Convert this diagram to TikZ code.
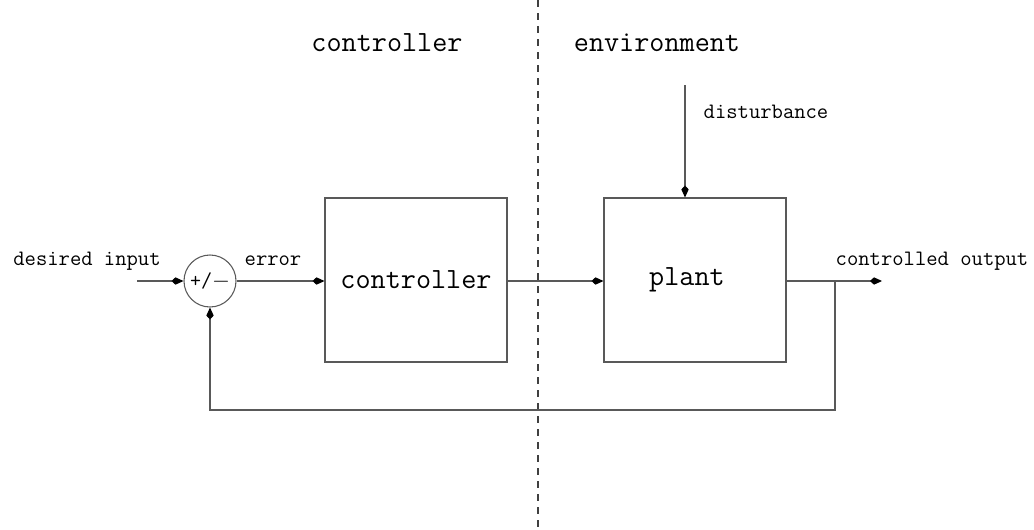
\documentclass[tikz,border=0pt]{standalone}
\usetikzlibrary{arrows.meta,positioning}

\begin{document}
\begin{tikzpicture}[x=0.75pt,y=-0.75pt,
blk/.style={draw=black!65,line width=0.8pt,minimum width=136.5pt,minimum height=123pt,font=\ttfamily\fontsize{22}{26}\selectfont},
sumnode/.style={draw=black!65,line width=0.8pt,circle,minimum size=39pt,inner sep=0pt,font=\ttfamily\fontsize{16}{19}\selectfont},
lbl/.style={font=\ttfamily\fontsize{16.5}{19}\selectfont,inner sep=0pt},
big/.style={font=\ttfamily\fontsize{22}{26}\selectfont,inner sep=0pt},
sig/.style={draw=black!65,line width=0.8pt,-{Kite[length=9pt,width=5.5pt,inset=3pt,black]}},
sep/.style={draw=black!75,line width=0.8pt,dash pattern=on 5.25pt off 4.5pt}]
\useasboundingbox (0,0) rectangle (1034,529);
% controller / environment split
\coordinate (septop) at (538,0);
\coordinate (sepbot) at (538,529);
\draw[sep] (septop) -- (sepbot);
\node[big] (side1) at (387,43) {controller};
\node[big] (side2) at (657,43) {environment};
% loop blocks
\node[sumnode] (sum) at (210,281) {+/$-$};
\node[blk] (ctrl) at (416,280) {controller};
\node[blk] (plant) at (695,280) {};
\node[big] (plantlbl) at (687,280) {plant};
\coordinate (in) at (137,281);
\coordinate (out) at (882,281);
\coordinate (tap) at (835,281);
\coordinate (fb) at (210,410);
\coordinate (dist) at (685,85);
% labels
\node[lbl] (inlbl) at (87,261) {desired input};
\node[lbl] (errlbl) at (273,261) {error};
\node[lbl] (outlbl) at (932,261) {controlled output};
\node[lbl] (distlbl) at (766,112) {disturbance};
% signals
\draw[sig] (in) -- (sum);
\draw[sig] (sum) -- (sum -| ctrl.west);
\draw[sig] (sum -| ctrl.east) -- (sum -| plant.west);
\draw[sig] (sum -| plant.east) -- (out);
\draw[sig] (dist) -- (dist |- plant.north);
\draw[sig] (tap) |- (fb) -- (sum.south);
\end{tikzpicture}
\end{document}
